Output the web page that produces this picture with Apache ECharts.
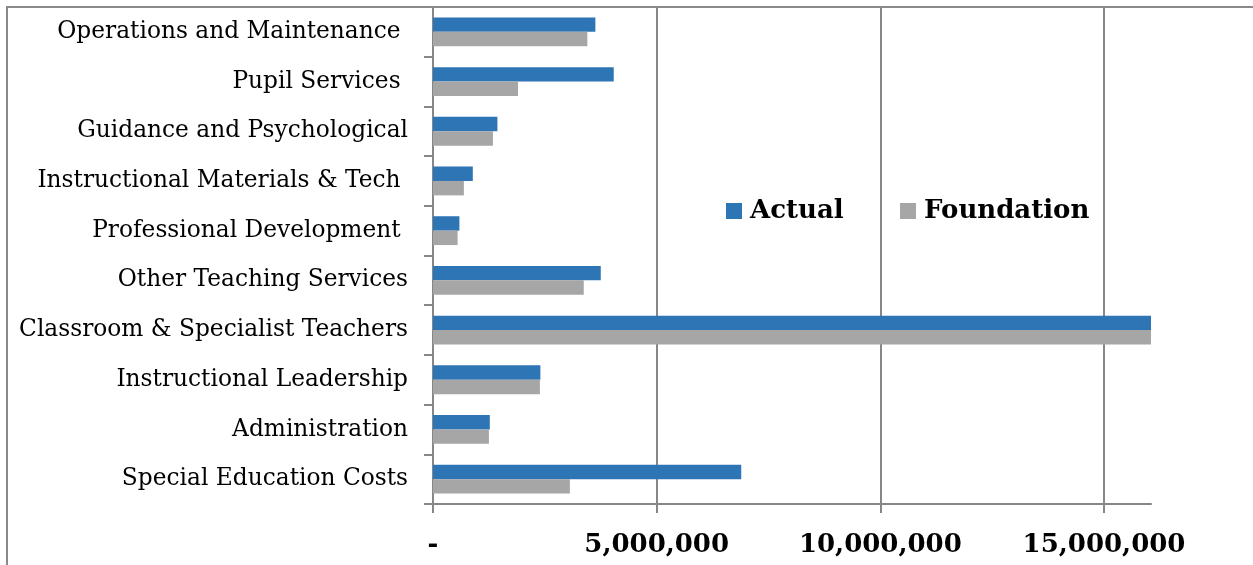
<!DOCTYPE html>
<html>
<head>
<meta charset="utf-8">
<style>
  html, body { margin: 0; padding: 0; background: #ffffff; }
  #chart { width: 1253px; height: 565px; }
</style>
<script src="https://cdn.jsdelivr.net/npm/echarts@6/dist/echarts.min.js"></script>
</head>
<body>
<div id="chart"></div>
<script>
// Expenditure categories, listed bottom to top as they appear on the category axis
const categories = [
  'Special Education Costs',
  'Administration',
  'Instructional Leadership',
  'Classroom & Specialist Teachers',
  'Other Teaching Services',
  'Professional Development ',
  'Instructional Materials & Tech ',
  'Guidance and Psychological',
  'Pupil Services ',
  'Operations and Maintenance '
];

// Dollar amounts per category
const actualValues = [6890000, 1270000, 2400000, 16050000, 3750000, 590000, 890000, 1440000, 4040000, 3630000];
const foundationValues = [3060000, 1250000, 2390000, 16050000, 3370000, 550000, 690000, 1340000, 1900000, 3450000];

// Value-axis ticks and their printed labels
const xTickValues = [0, 5000000, 10000000, 15000000];
const xTickLabels = ['-', '5,000,000', '10,000,000', '15,000,000'];
const xAxisMax = 16050000;

const seriesNames = ['Actual', 'Foundation'];
const seriesColors = ['#2E75B6', '#A6A6A6'];

const lineGray = '#878787';
const serif = '"DejaVu Serif", "Liberation Serif", serif';

const chart = echarts.init(document.getElementById('chart'), null, { renderer: 'canvas' });

const legendText = { fontFamily: serif, fontWeight: 'bold', fontSize: 26, color: '#000', padding: [0, 0, 0, 3] };

chart.setOption({
  animation: false,
  backgroundColor: '#ffffff',
  grid: { left: 433, top: 7, right: 102, bottom: 61, containLabel: false, outerBoundsMode: 'none' },
  legend: [
    {
      data: [seriesNames[0]],
      left: 726, top: 198, padding: 0,
      itemWidth: 16, itemHeight: 16,
      icon: 'rect',
      textStyle: legendText
    },
    {
      data: [seriesNames[1]],
      left: 900, top: 198, padding: 0,
      itemWidth: 16, itemHeight: 16,
      icon: 'rect',
      textStyle: legendText
    }
  ],
  graphic: [{
    type: 'rect',
    silent: true,
    z: 100,
    shape: { x: 7, y: 7, width: 1400, height: 700 },
    style: { fill: 'none', stroke: '#898989', lineWidth: 2 }
  }],
  xAxis: {
    type: 'value',
    min: 0,
    max: xAxisMax,
    axisLine: { show: true, lineStyle: { color: lineGray, width: 2 } },
    axisTick: { show: true, length: 9, customValues: xTickValues, lineStyle: { color: lineGray, width: 2 } },
    splitLine: { show: true, lineStyle: { color: lineGray, width: 2 } },
    axisLabel: {
      customValues: xTickValues,
      margin: 28,
      fontFamily: serif,
      fontWeight: 'bold',
      fontSize: 26,
      color: '#000',
      formatter: function (v) {
        const i = xTickValues.indexOf(v);
        return i >= 0 ? xTickLabels[i] : '';
      }
    }
  },
  yAxis: {
    type: 'category',
    data: categories,
    axisLine: { show: true, lineStyle: { color: lineGray, width: 2 } },
    axisTick: { show: true, length: 9, lineStyle: { color: lineGray, width: 2 } },
    splitLine: { show: false },
    axisLabel: {
      margin: 25,
      fontFamily: serif,
      fontSize: 23.3,
      color: '#000'
    }
  },
  series: [
    {
      name: seriesNames[0],
      type: 'bar',
      data: actualValues,
      itemStyle: { color: seriesColors[0] },
      barGap: '0%',
      barCategoryGap: '42%'
    },
    {
      name: seriesNames[1],
      type: 'bar',
      data: foundationValues,
      itemStyle: { color: seriesColors[1] },
      barGap: '0%',
      barCategoryGap: '42%'
    }
  ]
});
</script>
</body>
</html>
